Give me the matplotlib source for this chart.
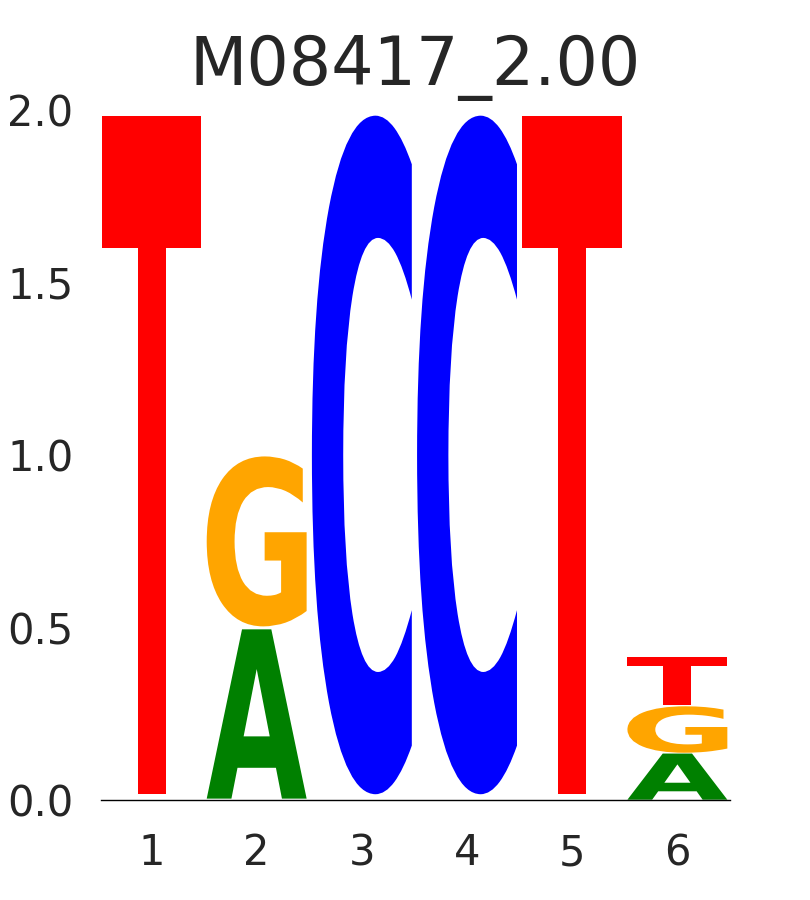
import matplotlib
matplotlib.use("Agg")
import matplotlib.pyplot as plt
import numpy as np
from matplotlib.textpath import TextPath
from matplotlib.font_manager import FontProperties
from matplotlib.patches import PathPatch
from matplotlib.transforms import Affine2D


title = "M08417_2.00"
positions = [1, 2, 3, 4, 5, 6]
letters = ["A", "C", "G", "T"]
# information (bits) per letter at each position
heights_A = [0.0, 0.499, 0.0, 0.0, 0.0, 0.136]
heights_C = [0.0, 0.000, 2.0, 2.0, 0.0, 0.000]
heights_G = [0.0, 0.501, 0.0, 0.0, 0.0, 0.137]
heights_T = [2.0, 0.000, 0.0, 0.0, 2.0, 0.143]
colors = {"A": "green", "C": "#0000ff", "G": "orange", "T": "red"}

heights = {"A": heights_A, "C": heights_C, "G": heights_G, "T": heights_T}
font = FontProperties(family="DejaVu Sans", weight="bold")
glyph_width = 0.95
vpad = 0.017


def draw_glyph(ax, letter, x, bottom, height, color):
    path = TextPath((0, 0), letter, size=1, prop=font)
    ext = path.get_extents()
    pad = height * vpad / 2
    tr = (Affine2D()
          .translate(-ext.x0, -ext.y0)
          .scale(glyph_width / ext.width, (height - 2 * pad) / ext.height)
          .translate(x - glyph_width / 2, bottom + pad))
    ax.add_patch(PathPatch(tr.transform_path(path), facecolor=color,
                           edgecolor="none", linewidth=0))


fig = plt.figure(figsize=(8.1, 9), dpi=100)
ax = fig.add_axes([0.1247, 0.111, 0.7765, 0.767])

# stack letters smallest at the bottom
for i, pos in enumerate(positions):
    order = sorted(letters, key=lambda l: heights[l][i])
    bottom = 0.0
    for l in order:
        h = heights[l][i]
        if h > 0:
            draw_glyph(ax, l, pos, bottom, h, colors[l])
            bottom += h

ax.set_xlim(0.52, 6.5)
ax.set_ylim(0, 2.0)
ax.set_xticks(positions)
ax.set_xticklabels([str(p) for p in positions])
ax.set_yticks([0, 0.5, 1.0, 1.5, 2.0])
ax.set_yticklabels(["0.0", "0.5", "1.0", "1.5", "2.0"])
ax.tick_params(axis="both", length=0, labelsize=30, labelcolor="#262626")
ax.tick_params(axis="y", pad=20)
ax.tick_params(axis="x", pad=23)
for s in ["top", "right", "left"]:
    ax.spines[s].set_visible(False)
ax.spines["bottom"].set_color("black")
ax.spines["bottom"].set_linewidth(1.0)
ax.set_title(title, fontsize=48, color="#262626", pad=18)

fig.savefig("out.png", dpi=100)
